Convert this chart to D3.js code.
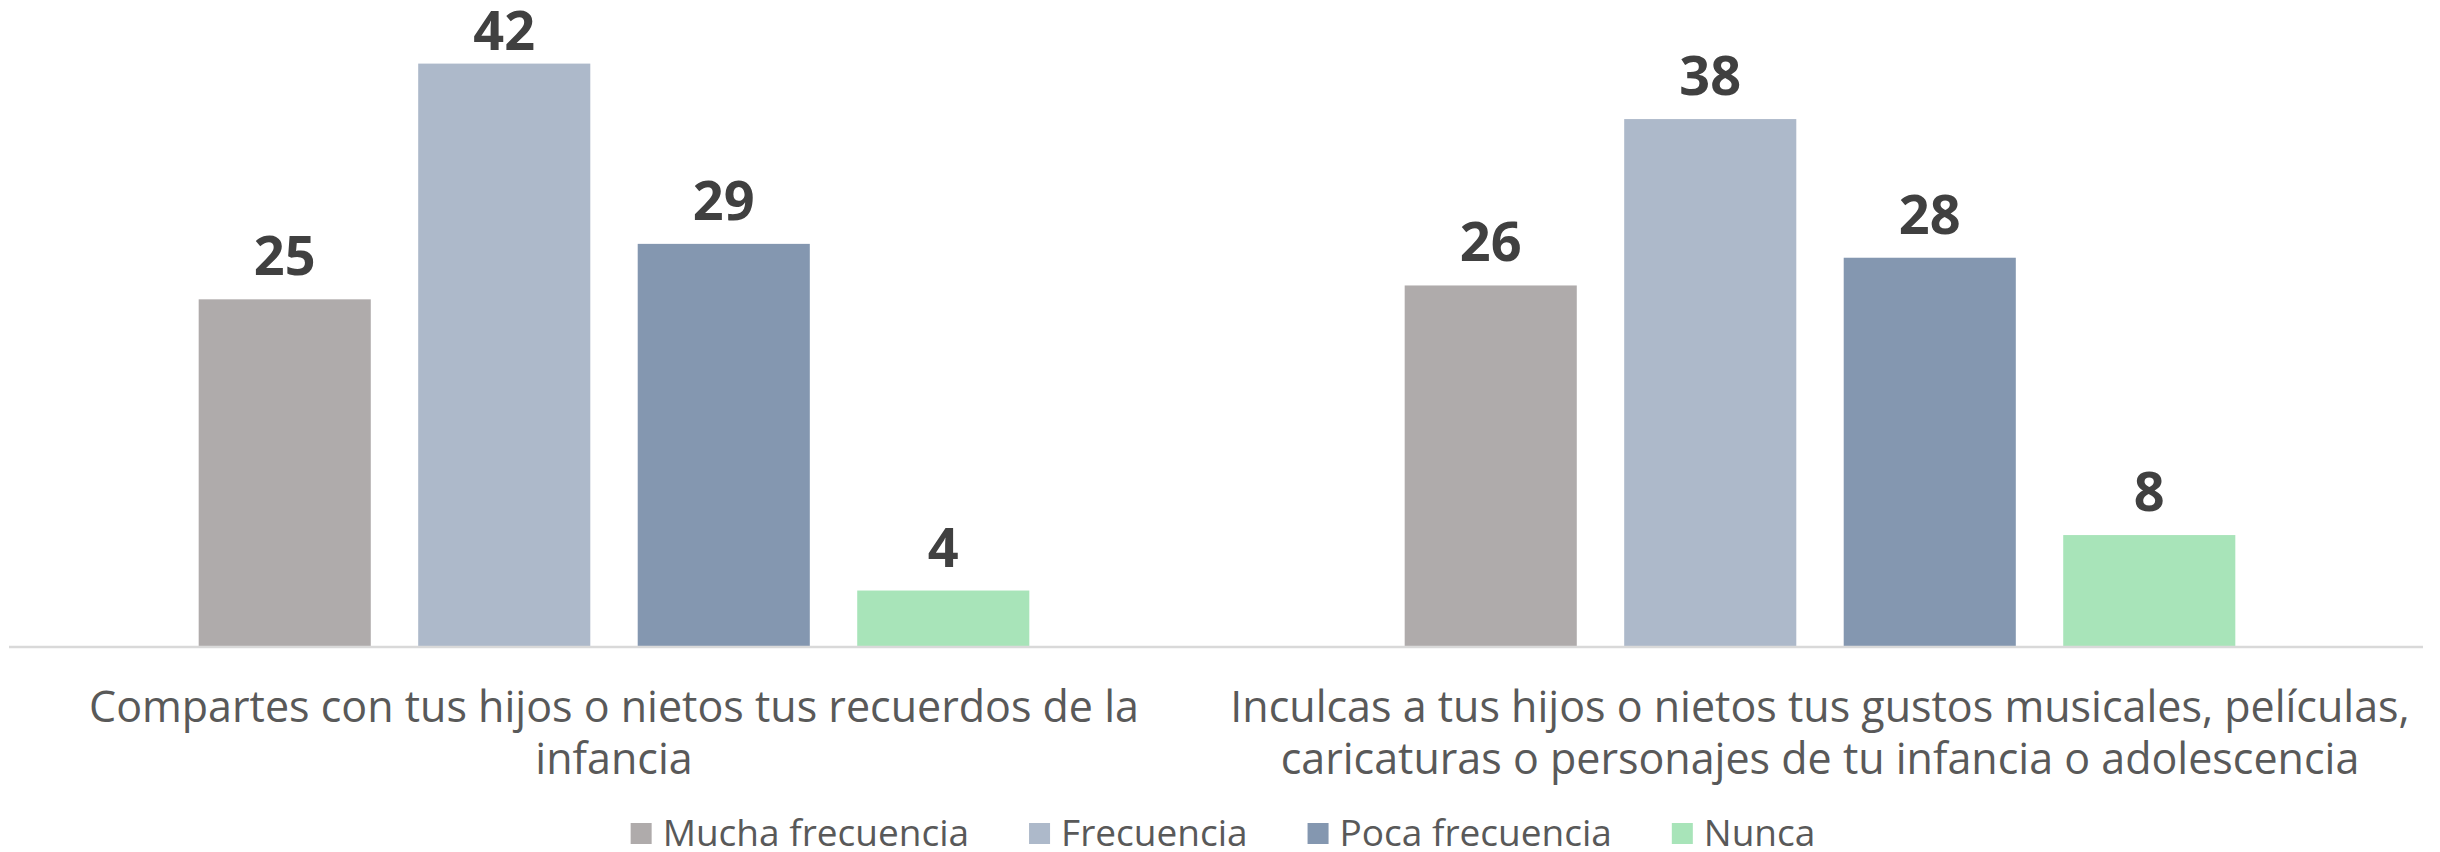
<!DOCTYPE html>
<html>
<head>
<meta charset="utf-8">
<script src="https://cdn.jsdelivr.net/npm/d3@7"></script>
<style>
  body { margin: 0; background: #fff; }
  svg { display: block; font-family: "Open Sans", "Noto Sans", sans-serif; }
</style>
</head>
<body>
<svg id="chart"></svg>
<script>
// data
const categories = [
  'Compartes con tus hijos o nietos tus recuerdos de la infancia',
  'Inculcas a tus hijos o nietos tus gustos musicales, películas, caricaturas o personajes de tu infancia o adolescencia'
];
const categoryLines = [
  ['Compartes con tus hijos o nietos tus recuerdos de la', 'infancia'],
  ['Inculcas a tus hijos o nietos tus gustos musicales, películas,', 'caricaturas o personajes de tu infancia o adolescencia']
];
const seriesNames = ['Mucha frecuencia', 'Frecuencia', 'Poca frecuencia', 'Nunca'];
const muchaFrecuencia = [25, 26];
const frecuencia = [42, 38];
const pocaFrecuencia = [29, 28];
const nunca = [4, 8];

const seriesValues = [muchaFrecuencia, frecuencia, pocaFrecuencia, nunca];
const colors = ['#AFABAB', '#ADB9CA', '#8497B0', '#A8E4B9'];

//size
const width = 2440;
const height = 852;
const plot = { left: 11, right: 2423, top: 22, bottom: 646 };

const svg = d3.select('#chart')
  .attr('width', width)
  .attr('height', height);

//scales
const x0 = d3.scaleBand()
  .domain(categories)
  .range([plot.left, plot.right]);

const x1 = d3.scaleBand()
  .domain(seriesNames)
  .range([0, x0.bandwidth()])
  .paddingInner(0.216)
  .paddingOuter(0.855);

const y = d3.scaleLinear()
  .domain([0, 45])
  .range([plot.bottom, plot.top]);

const color = d3.scaleOrdinal().domain(seriesNames).range(colors);

//table for bars
const rows = [];
categories.forEach((c, i) => {
  seriesNames.forEach((s, j) => {
    rows.push({ category: c, series: s, value: seriesValues[j][i] });
  });
});

//bars
svg.append('g').selectAll('rect')
  .data(rows)
  .enter().append('rect')
    .attr('x', d => x0(d.category) + x1(d.series))
    .attr('y', d => y(d.value))
    .attr('width', x1.bandwidth())
    .attr('height', d => y(0) - y(d.value))
    .style('fill', d => color(d.series));

//value labels (kept inside the chart area like excel does)
svg.append('g').selectAll('text')
  .data(rows)
  .enter().append('text')
    .attr('x', d => x0(d.category) + x1(d.series) + x1.bandwidth() / 2)
    .attr('y', d => Math.max(y(d.value) - 24, 50))
    .attr('text-anchor', 'middle')
    .style('font-size', '54px')
    .style('font-weight', 700)
    .style('fill', '#404040')
    .text(d => d.value);

//baseline
svg.append('line')
  .attr('x1', plot.left - 2)
  .attr('x2', plot.right)
  .attr('y1', y(0) + 1)
  .attr('y2', y(0) + 1)
  .style('stroke', '#D9D9D9')
  .style('stroke-width', 2.5);

//category labels
const catLabel = svg.append('g').selectAll('text')
  .data(categories)
  .enter().append('text')
    .attr('x', d => x0(d) + x0.bandwidth() / 2)
    .attr('y', 722)
    .attr('text-anchor', 'middle')
    .style('font-size', '43px')
    .style('fill', '#595959');

catLabel.selectAll('tspan')
  .data((d, i) => categoryLines[i])
  .enter().append('tspan')
    .attr('x', function () { return this.parentNode.getAttribute('x'); })
    .attr('dy', (d, i) => i === 0 ? 0 : 52)
    .text(d => d);

//legend
const legend = svg.append('g');
const item = legend.selectAll('g')
  .data(seriesNames)
  .enter().append('g');

item.append('rect')
  .attr('y', 823)
  .attr('width', 21)
  .attr('height', 21)
  .style('fill', d => color(d));

item.append('text')
  .attr('x', 32)
  .attr('y', 846)
  .style('font-size', '37px')
  .style('fill', '#595959')
  .text(d => d);

const legendGap = 60;
let offset = 0;
item.each(function () {
  d3.select(this).attr('transform', `translate(${offset},0)`);
  offset += this.getBBox().width + legendGap;
});
const legendWidth = offset - legendGap;
legend.attr('transform', `translate(${1223 - legendWidth / 2},0)`);
</script>
</body>
</html>
